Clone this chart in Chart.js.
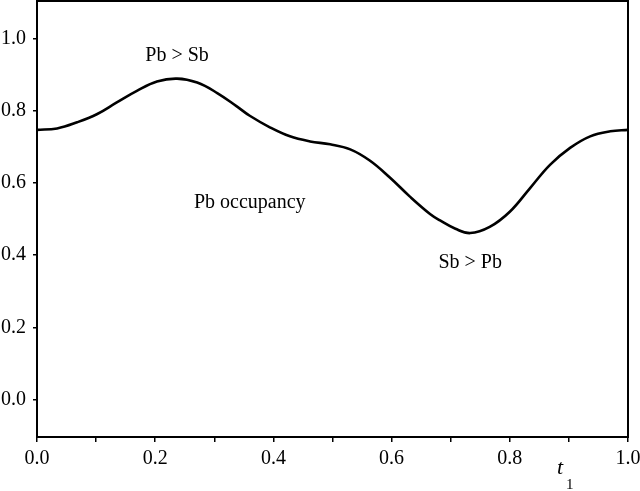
<!DOCTYPE html>
<html>
<head>
<meta charset="utf-8">
<script src="https://cdn.jsdelivr.net/npm/chart.js@4.4.0/dist/chart.umd.min.js"></script>
<style>
  html, body { margin: 0; padding: 0; background: #fff; }
  #wrap { width: 640px; height: 491px; }
</style>
</head>
<body>
<div id="wrap"><canvas id="occChart"></canvas></div>
<script>
// t1 positions and Pb occupancy
var t1 = [0, 0.034, 0.068, 0.102, 0.135, 0.169, 0.203, 0.237, 0.271, 0.305, 0.338, 0.360, 0.394, 0.428, 0.462, 0.496, 0.530, 0.563, 0.597, 0.631, 0.665, 0.682, 0.708, 0.733, 0.766, 0.800, 0.834, 0.868, 0.902, 0.936, 0.970, 1.0];
var occupancy = [0.747, 0.751, 0.768, 0.791, 0.823, 0.855, 0.881, 0.889, 0.878, 0.849, 0.812, 0.786, 0.754, 0.729, 0.715, 0.707, 0.693, 0.662, 0.615, 0.562, 0.514, 0.496, 0.473, 0.461, 0.478, 0.520, 0.585, 0.650, 0.697, 0.729, 0.743, 0.747];

// tick values
var xTicks = [0, 0.1, 0.2, 0.3, 0.4, 0.5, 0.6, 0.7, 0.8, 0.9, 1.0];
var yTicks = [0, 0.2, 0.4, 0.6, 0.8, 1.0];

// text notes inside the plot (data coords)
var notes = [
  { text: 'Pb > Sb', x: 0.237, y: 0.953 },
  { text: 'Pb occupancy', x: 0.36, y: 0.545 },
  { text: 'Sb > Pb', x: 0.733, y: 0.38 }
];

var serif = '"Liberation Serif", "DejaVu Serif", serif';

var points = t1.map(function (t, i) { return { x: t, y: occupancy[i] }; });

// frame + text notes
var framePlugin = {
  id: 'frame',
  afterDraw: function (chart) {
    var c = chart.ctx, a = chart.chartArea;
    var xs = chart.scales.x, ys = chart.scales.y;
    c.save();
    c.strokeStyle = '#000';
    c.lineWidth = 2;
    c.strokeRect(a.left, a.top, a.right - a.left, a.bottom - a.top);

    c.fillStyle = '#000';
    c.font = '20px ' + serif;
    c.textAlign = 'center';
    c.textBaseline = 'middle';
    notes.forEach(function (n) {
      c.fillText(n.text, xs.getPixelForValue(n.x), ys.getPixelForValue(n.y));
    });

    // axis title t1
    c.font = 'italic 22px ' + serif;
    c.textAlign = 'left';
    c.textBaseline = 'alphabetic';
    c.fillText('t', 557, 474);
    c.font = '15px ' + serif;
    c.fillText('1', 566, 489);
    c.restore();
  }
};

var ctx = document.getElementById('occChart');
var occChart = new Chart(ctx, {
  type: 'line',
  data: {
    datasets: [{
      data: points,
      borderColor: '#000',
      borderWidth: 2.6,
      pointRadius: 0,
      tension: 0.4,
      fill: false
    }]
  },
  options: {
    responsive: true,
    maintainAspectRatio: false,
    animation: false,
    layout: { padding: { top: 1, right: 12, left: 0, bottom: 0 } },
    plugins: {
      legend: { display: false },
      tooltip: { enabled: false }
    },
    scales: {
      x: {
        type: 'linear',
        min: 0,
        max: 1,
        afterBuildTicks: function (axis) {
          axis.ticks = xTicks.map(function (v) { return { value: v }; });
        },
        afterFit: function (axis) {
          axis.height = 54;
          axis.paddingLeft = 0;
          axis.paddingRight = 0;
        },
        grid: { drawOnChartArea: false, drawTicks: true, tickLength: 5, color: '#000', lineWidth: 1.5 },
        border: { display: true, color: '#000', width: 2 },
        ticks: {
          color: '#000',
          padding: 5,
          maxRotation: 0,
          autoSkip: false,
          font: { family: serif, size: 20 },
          callback: function (v) {
            var k = Math.round(v * 10);
            return k % 2 === 0 ? (k / 10).toFixed(1) : '';
          }
        }
      },
      y: {
        type: 'linear',
        min: -0.104,
        max: 1.104,
        afterBuildTicks: function (axis) {
          axis.ticks = yTicks.map(function (v) { return { value: v }; });
        },
        afterFit: function (axis) {
          axis.width = 37;
          axis.paddingTop = 0;
          axis.paddingBottom = 0;
        },
        grid: { drawOnChartArea: false, drawTicks: true, tickLength: 4, color: '#000', lineWidth: 1.5 },
        border: { display: true, color: '#000', width: 2 },
        ticks: {
          color: '#000',
          padding: 7,
          font: { family: serif, size: 20 },
          callback: function (v) { return v.toFixed(1); }
        }
      }
    }
  },
  plugins: [framePlugin]
});
</script>
</body>
</html>
